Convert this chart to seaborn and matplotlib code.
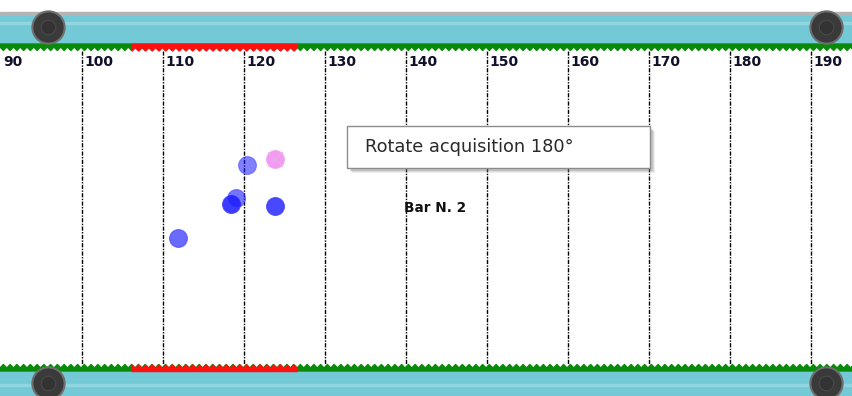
import numpy as np
import pandas as pd
import matplotlib.pyplot as plt
import seaborn as sns
from matplotlib.patches import Rectangle

sns.set_style('white')

# Data
tick_values = [90, 100, 110, 120, 130, 140, 150, 160, 170, 180, 190]
point_x = [111.9, 118.4, 119.0, 120.4, 123.8]
point_y = [238, 204, 198, 165, 206]
point_alpha = [0.65, 0.85, 0.6, 0.55, 0.8]
selected_x = [123.8]
selected_y = [159]
red_zone = (106.0, 126.9)
bar_label = 'Bar N. 2'
tooltip_text = 'Rotate acquisition 180°'

# pixel -> data helpers
PX = 8.1
X0 = 90 - 1 / PX


def px(xp):
    return X0 + xp / PX


fig = plt.figure(figsize=(8.53, 3.96), dpi=100)
ax = fig.add_axes([0, 0, 1, 1])
ax.set_xlim(px(0), px(853))
ax.set_ylim(396, 0)
ax.axis('off')

# belts
ax.fill_between([px(0), px(853)], 12, 16, color='#b4b4b4', zorder=1)
ax.fill_between([px(0), px(853)], 16, 44, color='#74c9d6', zorder=1)
ax.fill_between([px(0), px(853)], 22, 24, color='#8fd6e0', zorder=1)
ax.fill_between([px(0), px(853)], 371, 396, color='#74c9d6', zorder=1)
ax.fill_between([px(0), px(853)], 384, 386, color='#8fd6e0', zorder=1)

# sawtooth edges
step = 6.75 / PX
xs = np.arange(px(0), px(853) + step, step / 2)
teeth = np.where(np.arange(len(xs)) % 2 == 0, 47.0, 50.5)
red = (xs >= red_zone[0]) & (xs <= red_zone[1])
ax.fill_between(xs, 44, teeth, color='#0a8a0a', zorder=2)
ax.fill_between(xs, 44, teeth, where=red, color='#ff1010', zorder=3)
teeth_b = np.where(np.arange(len(xs)) % 2 == 0, 368.0, 364.5)
ax.fill_between(xs, 371, teeth_b, color='#0a8a0a', zorder=2)
ax.fill_between(xs, 371, teeth_b, where=red, color='#ff1010', zorder=3)

# rollers
for rx, ry in [(48, 27), (826, 27), (48, 383), (826, 383)]:
    ax.scatter([px(rx)], [ry], s=540, color='#3a3a3a', edgecolor='#6e6e6e',
               linewidth=1.5, zorder=4)
    ax.scatter([px(rx)], [ry], s=110, color='#333333', edgecolor='#4a4a4a',
               linewidth=0.8, zorder=5)

# grid lines and tick labels
ax.vlines(tick_values[1:], 51, 364, colors='black', linewidth=1,
          linestyles=(0, (3, 1, 1, 1)), zorder=2)
for v in tick_values:
    ax.text(v + 0.3, 62, str(v), fontsize=10, fontweight='bold',
            color='#101028', va='center', ha='left', zorder=6)

# points
df = pd.DataFrame({'x': point_x, 'y': point_y})
for (_, row), a in zip(df.iterrows(), point_alpha):
    sns.scatterplot(x=[row['x']], y=[row['y']], ax=ax, s=165, color='#1a1aff',
                    alpha=a, edgecolor='#4040ff', linewidth=0.8, zorder=7)
sns.scatterplot(x=selected_x, y=selected_y, ax=ax, s=165, color='#ee82ee',
                alpha=0.8, edgecolor='#f2a0f2', linewidth=0.8, zorder=7)
ax.scatter(selected_x, selected_y, s=110, marker='x', color='#f0a8f0',
           linewidth=0.8, zorder=8)

ax.text(px(404), 208, bar_label, fontsize=9.8, fontweight='bold',
        color='#111111', va='center', ha='left', zorder=6)

# tooltip with soft shadow
for off, a in [(5, 0.12), (4, 0.18), (3, 0.25)]:
    ax.add_patch(Rectangle((px(347 + off), 126 + off), 303 / PX, 42,
                           facecolor='#808080', alpha=a, edgecolor='none',
                           zorder=8))
ax.add_patch(Rectangle((px(347), 126), 303 / PX, 42, facecolor='white',
                       edgecolor='#8c8c8c', linewidth=1, zorder=9))
ax.text(px(365), 147, tooltip_text, fontsize=12.8, color='#2a2a2a',
        va='center', ha='left', zorder=10)

fig.savefig('out.png', dpi=100)
